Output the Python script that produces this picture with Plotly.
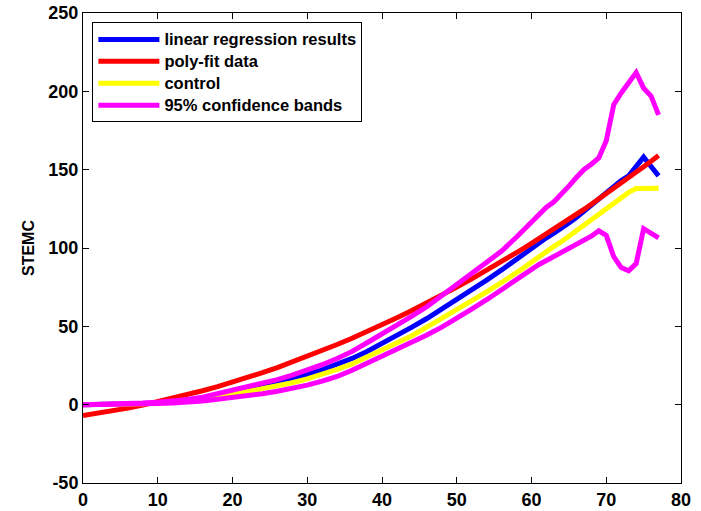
import plotly.graph_objects as go

x = list(range(0, 59, 2)) + list(range(59, 78))

linear_regression = [0, 0.05, 0.2, 0.4, 0.8, 1.3, 2.0, 2.9, 4.1, 5.8, 8, 9.8, 11.8, 14, 16.5,
                     19.2, 22.2, 25.5, 29.5, 34, 39, 44, 49.5, 55, 61, 67, 73, 79.5, 86, 93,
                     96.5, 100, 103.5, 106.5, 109.5, 112.5, 116, 119.5, 123.5, 127.5, 131.5,
                     135.5, 140, 143, 146, 152, 158, 152, 146]

poly_fit = [-7.0, -5.6, -4.0, -2.2, -0.3, 1.8, 4.0, 6.3, 8.9, 11.5, 14.3, 17.3, 20.4, 23.7, 27.2,
            30.7, 34.5, 38.4, 42.4, 46.6, 51.0, 55.5, 60.1, 64.9, 69.9, 75.0, 80.3, 85.7, 91.3, 97.0,
            99.9, 102.9, 105.9, 108.9, 112.0, 115.1, 118.2, 121.4, 124.6, 127.9, 131.2,
            134.5, 137.9, 141.3, 144.8, 148.3, 151.8, 155.4, 159.0]

control = [0, 0, 0.1, 0.3, 0.6, 1.0, 1.6, 2.3, 3.3, 4.7, 6.5, 8.0, 9.8, 11.8, 14,
           16.5, 19.3, 22.5, 26, 30.3, 35, 39.5, 44, 49.5, 55, 61, 66.5, 72, 78, 84,
           87.5, 91, 94.5, 98, 101, 104, 107.5, 111, 114.5, 118, 121.5,
           125, 128.5, 132, 135.5, 138, 138.2, 138.2, 138.2]

conf_upper = [0, 0.1, 0.3, 0.6, 1.0, 1.5, 2.3, 3.3, 4.8, 7, 9.8, 11.8, 13.5, 16, 18.8,
              22, 25.5, 29.5, 34, 39.5, 45, 51, 56.5, 62.5, 69.5, 77, 84, 90.5, 98, 107,
              112, 117, 122, 126, 129.5, 134, 139.5, 145, 150, 153.5, 157.5,
              168.5, 191.5, 199, 206, 212, 202, 197, 185]

conf_lower = [0, 0, 0.05, 0.2, 0.4, 0.7, 1.1, 1.6, 2.4, 3.4, 4.5, 5.6, 7.0, 8.6, 10.4,
              12.5, 15, 18, 22, 26.5, 31, 35, 39.5, 44.5, 49.5, 55, 61, 67, 73.5, 80.5,
              83.5, 86.5, 89.5, 92, 94.5, 97, 99.5, 102, 104.5, 107.5, 111,
              108, 94.5, 87.5, 85.5, 90, 112.3, 109.5, 106.5]

series_names = ["linear regression results", "poly-fit data", "control", "95% confidence bands"]
x_ticks = [0, 10, 20, 30, 40, 50, 60, 70, 80]
y_ticks = [-50, 0, 50, 100, 150, 200, 250]

FONT = "Liberation Sans, Arial, Helvetica, sans-serif"
LW = 5


def legend_label(text):
    return '<span style="font-size:16.5px">' + text + '</span>'


fig = go.Figure()
fig.add_trace(go.Scatter(x=x, y=linear_regression, mode="lines", name=legend_label(series_names[0]),
                         line=dict(color="#0000FF", width=LW)))
fig.add_trace(go.Scatter(x=x, y=poly_fit, mode="lines", name=legend_label(series_names[1]),
                         line=dict(color="#FF0000", width=LW)))
fig.add_trace(go.Scatter(x=x, y=control, mode="lines", name=legend_label(series_names[2]),
                         line=dict(color="#FFFF00", width=LW)))
fig.add_trace(go.Scatter(x=x, y=conf_upper, mode="lines", name=legend_label(series_names[3]),
                         legendgroup="cb", line=dict(color="#FF00FF", width=LW)))
fig.add_trace(go.Scatter(x=x, y=conf_lower, mode="lines", name=legend_label(series_names[3]),
                         legendgroup="cb", showlegend=False,
                         line=dict(color="#FF00FF", width=LW)))

axis_common = dict(showgrid=False, zeroline=False, showline=True, linecolor="black",
                   linewidth=1, mirror="ticks", ticks="inside", ticklen=6, tickcolor="black",
                   automargin=False,
                   tickfont=dict(family=FONT, size=18, color="black", weight="bold"))

fig.update_xaxes(range=[0, 80], tickvals=x_ticks, ticktext=[str(v) for v in x_ticks], **axis_common)
fig.update_yaxes(range=[-50, 250], tickvals=y_ticks, ticktext=[str(v) for v in y_ticks],
                 title=dict(text="STEMC", font=dict(family=FONT, size=16, color="black", weight="bold"),
                            standoff=9),
                 **axis_common)

fig.update_layout(
    width=701, height=511,
    margin=dict(l=83, r=20, t=13, b=28),
    paper_bgcolor="white", plot_bgcolor="white",
    font=dict(family=FONT, size=16, color="black"),
    legend=dict(x=0.0157, y=0.980, xanchor="left", yanchor="top",
                bgcolor="white", bordercolor="black", borderwidth=1,
                itemwidth=61, tracegroupgap=0,
                font=dict(family=FONT, size=14.6, color="black", weight="bold")),
    showlegend=True,
)

fig.write_html("out.html", config={"displayModeBar": False},
               post_script="document.body.style.margin='0';")
